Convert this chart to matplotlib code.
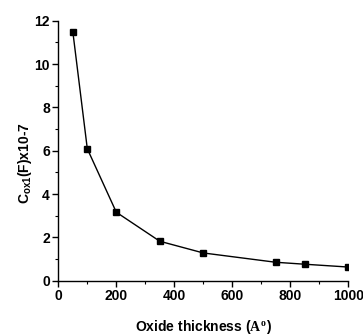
import numpy as np
import matplotlib
matplotlib.use('Agg')
import matplotlib.pyplot as plt
from matplotlib.ticker import MultipleLocator

plt.rcParams['font.family'] = ['Liberation Sans', 'DejaVu Sans']
plt.rcParams['font.weight'] = 'bold'
plt.rcParams['mathtext.fontset'] = 'custom'
plt.rcParams['mathtext.rm'] = 'Liberation Sans:bold'
plt.rcParams['mathtext.bf'] = 'Liberation Sans:bold'
plt.rcParams['mathtext.it'] = 'Liberation Serif:bold'

espesor = [50, 100, 200, 350, 500, 750, 850, 1000]
capacitancia = [11.5, 6.09, 3.16, 1.82, 1.28, 0.85, 0.76, 0.63]

fig = plt.figure(figsize=(3.63, 3.36), dpi=100)
ax = fig.add_axes([0.1606, 0.1646, 0.799, 0.7738])

ax.plot(espesor, capacitancia, 'k-', linewidth=1, marker='s', markersize=4.5)

ax.set_xlim(0, 1000)
ax.set_ylim(0, 12)
ax.xaxis.set_major_locator(MultipleLocator(200))
ax.xaxis.set_minor_locator(MultipleLocator(100))
ax.yaxis.set_major_locator(MultipleLocator(2))
ax.yaxis.set_minor_locator(MultipleLocator(1))
ax.tick_params(which='major', length=4, width=1, labelsize=10, pad=2)
ax.tick_params(which='minor', length=2.5, width=0.8)
for s in ['top', 'right']:
    ax.spines[s].set_visible(False)
for s in ['left', 'bottom']:
    ax.spines[s].set_linewidth(1)

for lbl in ax.get_xticklabels() + ax.get_yticklabels():
    lbl.set_fontweight('bold')

ax.set_xlabel('Oxide thickness ($\\mathit{A}^\\mathit{o}$)', fontsize=10, fontweight='bold')
ax.set_ylabel('C$_\\mathbf{ox1}$(F)x10-7', fontsize=10, fontweight='bold')
ax.xaxis.set_label_coords(0.502, -0.142)
ax.yaxis.set_label_coords(-0.085, 0.453)

fig.savefig('out.png', dpi=100)
